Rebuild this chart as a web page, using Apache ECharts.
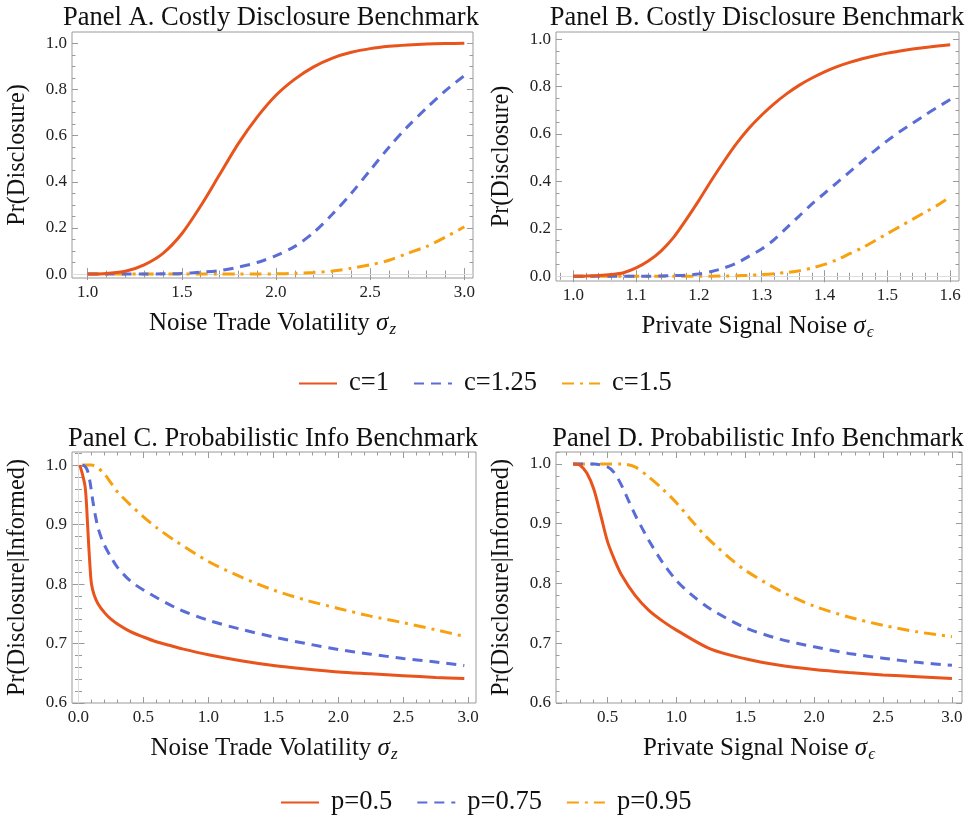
<!DOCTYPE html>
<html>
<head>
<meta charset="utf-8">
<script src="https://cdn.jsdelivr.net/npm/echarts@6/dist/echarts.min.js"></script>
<style>html,body{margin:0;padding:0;background:#fff}#c{width:969px;height:821px}</style>
</head>
<body>
<div id="c"></div>
<script>
// ---------- DATA ----------
// Panel A: Pr(Disclosure) vs noise trade volatility
const xA = [1.0,1.1,1.2,1.3,1.4,1.5,1.6,1.7,1.8,1.9,2.0,2.1,2.2,2.3,2.4,2.5,2.6,2.7,2.8,2.9,3.0];
const aC1   = [0,0.003,0.012,0.04,0.09,0.175,0.295,0.43,0.565,0.68,0.775,0.845,0.898,0.936,0.961,0.977,0.987,0.993,0.997,0.999,1.0];
const aC125 = [0,0,0,0,0.001,0.003,0.008,0.015,0.03,0.05,0.08,0.12,0.18,0.26,0.35,0.45,0.55,0.64,0.72,0.795,0.86];
const aC15  = [0,0,0,0,0,0,0,0,0,0,0.001,0.003,0.007,0.013,0.025,0.04,0.06,0.09,0.12,0.16,0.205];

// Panel B: Pr(Disclosure) vs private signal noise
const xB = [1.00,1.02,1.04,1.06,1.08,1.10,1.12,1.14,1.16,1.18,1.20,1.22,1.24,1.26,1.28,1.30,1.32,1.34,1.36,1.38,1.40,1.42,1.44,1.46,1.48,1.50,1.52,1.54,1.56,1.58,1.60];
const bC1   = [0,0.001,0.003,0.007,0.015,0.035,0.065,0.107,0.165,0.24,0.32,0.405,0.485,0.56,0.625,0.68,0.728,0.77,0.806,0.836,0.862,0.884,0.902,0.917,0.93,0.941,0.95,0.958,0.965,0.971,0.976];
const bC125 = [0,0,0,0,0,0,0,0.001,0.003,0.005,0.01,0.02,0.035,0.055,0.085,0.115,0.155,0.205,0.255,0.305,0.35,0.395,0.44,0.485,0.53,0.572,0.61,0.645,0.68,0.713,0.745];
const bC15  = [0,0,0,0,0,0,0,0,0,0,0,0,0.001,0.002,0.004,0.007,0.011,0.016,0.023,0.035,0.05,0.07,0.095,0.12,0.15,0.18,0.21,0.24,0.27,0.30,0.335];

// Panel C: Pr(Disclosure|Informed) vs noise trade volatility
const xC05  = [0.01,0.03,0.05,0.06,0.07,0.08,0.09,0.10,0.12,0.15,0.2,0.25,0.3,0.4,0.5,0.6,0.7,0.8,1.0,1.25,1.5,1.75,2.0,2.25,2.5,2.75,2.97];
const cP05  = [1.0,0.985,0.965,0.94,0.90,0.86,0.825,0.80,0.782,0.767,0.752,0.741,0.733,0.72,0.711,0.703,0.697,0.691,0.681,0.671,0.663,0.657,0.652,0.649,0.646,0.643,0.641];
const xC075 = [0.03,0.05,0.07,0.09,0.11,0.13,0.15,0.18,0.2,0.25,0.3,0.4,0.5,0.75,1.0,1.25,1.5,1.75,2.0,2.25,2.5,2.75,2.97];
const cP075 = [1.0,0.998,0.99,0.97,0.94,0.915,0.895,0.875,0.865,0.845,0.828,0.805,0.79,0.76,0.739,0.724,0.711,0.70,0.69,0.682,0.675,0.669,0.663];
const xC095 = [0.03,0.1,0.15,0.2,0.25,0.3,0.4,0.5,0.6,0.75,1.0,1.25,1.5,1.75,2.0,2.25,2.5,2.75,2.97];
const cP095 = [1.0,1.0,0.995,0.985,0.97,0.955,0.933,0.913,0.895,0.872,0.838,0.812,0.79,0.773,0.759,0.746,0.735,0.723,0.712];

// Panel D: Pr(Disclosure|Informed) vs private signal noise
const xD05  = [0.25,0.3,0.35,0.4,0.45,0.5,0.55,0.6,0.7,0.8,0.9,1.0,1.25,1.5,1.75,2.0,2.25,2.5,2.75,3.0];
const dP05  = [1.0,0.998,0.985,0.958,0.915,0.87,0.84,0.815,0.78,0.755,0.737,0.722,0.69,0.674,0.663,0.656,0.651,0.647,0.644,0.641];
const xD075 = [0.25,0.4,0.5,0.55,0.6,0.65,0.7,0.75,0.8,0.9,1.0,1.1,1.25,1.5,1.75,2.0,2.25,2.5,2.75,3.0];
const dP075 = [1.0,1.0,0.995,0.985,0.965,0.94,0.915,0.893,0.872,0.835,0.805,0.783,0.757,0.726,0.707,0.694,0.683,0.675,0.668,0.663];
const xD095 = [0.25,0.5,0.6,0.7,0.8,0.9,1.0,1.1,1.2,1.3,1.4,1.5,1.75,2.0,2.25,2.5,2.75,3.0];
const dP095 = [1.0,1.0,1.0,0.995,0.978,0.958,0.935,0.908,0.882,0.86,0.84,0.822,0.788,0.762,0.744,0.73,0.719,0.711];

// Tick labels
const xTicksA = [1.0,1.5,2.0,2.5,3.0];
const xTicksB = [1.0,1.1,1.2,1.3,1.4,1.5,1.6];
const xTicksC = [0.0,0.5,1.0,1.5,2.0,2.5,3.0];
const xTicksD = [0.5,1.0,1.5,2.0,2.5,3.0];
const yTicksAB = [0.0,0.2,0.4,0.6,0.8,1.0];
const yTicksCD = [0.6,0.7,0.8,0.9,1.0];

const legendTop = ['c=1','c=1.25','c=1.5'];
const legendBottom = ['p=0.5','p=0.75','p=0.95'];

// ---------- STYLE / LAYOUT ----------
const FONT = "'Liberation Serif','Times New Roman',serif";
const ORANGE = '#E8541C', BLUE = '#5A6CD6', GOLD = '#F7A10F';
const FRAME = '#9a9a9a';
const styles = [
  {color: ORANGE, type: 'solid'},
  {color: BLUE, type: [10, 7]},
  {color: GOLD, type: [12, 6, 3, 6]}
];

function minorTicks(min, max, step, major) {
  const out = [];
  for (let k = Math.ceil(min / step - 1e-9); k * step <= max + 1e-9; k++) {
    const v = +(k * step).toFixed(4);
    if (!major.some(m => Math.abs(m - v) < 1e-6)) out.push(v);
  }
  return out;
}
function zip(xs, ys) { return xs.map((x, i) => [x, ys[i]]); }

const xNameRich = {
  s: {fontSize: 25, fontStyle: 'italic', fontFamily: FONT, color: '#111'},
  sub: {fontSize: 17, fontStyle: 'italic', fontFamily: FONT, color: '#111', verticalAlign: 'bottom', padding: [12, 0, 0, 1]}
};

const panels = [
  {grid: {left: 72, top: 32, width: 401, height: 246}, xr: [0.917, 3.046], yr: [-0.017, 1.049],
   xMaj: xTicksA, xStep: 0.1, yMaj: yTicksAB, yStep: 0.05,
   xName: 'Noise Trade Volatility {s|σ}{sub|z}', yName: 'Pr(Disclosure)',
   title: 'Panel A. Costly Disclosure Benchmark', tx: 271, ty: 5,
   names: legendTop, xs: [xA, xA, xA], ys: [aC1, aC125, aC15], zero: {yAxis: 0}},
  {grid: {left: 556, top: 32, width: 403, height: 249}, xr: [0.9725, 1.614], yr: [-0.02, 1.03],
   xMaj: xTicksB, xStep: 0.02, yMaj: yTicksAB, yStep: 0.05,
   xName: 'Private Signal Noise {s|σ}{sub|ϵ}', yName: 'Pr(Disclosure)',
   title: 'Panel B. Costly Disclosure Benchmark', tx: 757, ty: 5,
   names: legendTop, xs: [xB, xB, xB], ys: [bC1, bC125, bC15], zero: {yAxis: 0}},
  {grid: {left: 72, top: 452, width: 404, height: 251}, xr: [-0.05, 3.06], yr: [0.6, 1.022],
   xMaj: xTicksC, xStep: 0.1, yMaj: yTicksCD, yStep: 0.02,
   xName: 'Noise Trade Volatility {s|σ}{sub|z}', yName: 'Pr(Disclosure|Informed)',
   title: 'Panel C. Probabilistic Info Benchmark', tx: 273, ty: 426,
   names: legendBottom, xs: [xC05, xC075, xC095], ys: [cP05, cP075, cP095], zero: {xAxis: 0}},
  {grid: {left: 556, top: 452, width: 406, height: 251}, xr: [0.126, 3.073], yr: [0.6, 1.02],
   xMaj: xTicksD, xStep: 0.1, yMaj: yTicksCD, yStep: 0.02,
   xName: 'Private Signal Noise {s|σ}{sub|ϵ}', yName: 'Pr(Disclosure|Informed)',
   title: 'Panel D. Probabilistic Info Benchmark', tx: 758, ty: 426,
   names: legendBottom, xs: [xD05, xD075, xD095], ys: [dP05, dP075, dP095], zero: null}
];

const grids = [], xAxes = [], yAxes = [], series = [], titles = [];
const labelStyle = {fontSize: 17, fontFamily: FONT, color: '#222'};
const fmt = v => Number(v).toFixed(1);

panels.forEach((p, gi) => {
  grids.push(Object.assign({show: true, borderColor: FRAME, borderWidth: 1, backgroundColor: 'transparent', containLabel: false}, p.grid));
  titles.push({text: p.title, left: p.tx, top: p.ty, textAlign: 'center', padding: 0,
    textStyle: {fontSize: 26.5, fontWeight: 'normal', fontFamily: FONT, color: '#111'}});
  const xMin = minorTicks(p.xr[0], p.xr[1], p.xStep, p.xMaj);
  const yMin = minorTicks(p.yr[0], p.yr[1], p.yStep, p.yMaj);
  const base = (pos, vals, len, withLabel, isX) => ({
    type: 'value', gridIndex: gi, position: pos,
    min: isX ? p.xr[0] : p.yr[0], max: isX ? p.xr[1] : p.yr[1],
    axisLine: {show: false}, splitLine: {show: false},
    axisTick: {show: true, inside: true, length: len, customValues: vals, lineStyle: {color: FRAME, width: 1}},
    axisLabel: withLabel ? Object.assign({show: true, customValues: vals, formatter: fmt, margin: isX ? 6 : 5}, labelStyle) : {show: false}
  });
  const xb = base('bottom', p.xMaj, 6, true, true);
  xb.name = p.xName; xb.nameLocation = 'middle'; xb.nameGap = 31;
  xb.nameTextStyle = {fontSize: 25, fontFamily: FONT, color: '#111', rich: xNameRich};
  xAxes.push(xb, base('bottom', xMin, 3.5, false, true), base('top', p.xMaj, 6, false, true), base('top', xMin, 3.5, false, true));
  const yl = base('left', p.yMaj, 6, true, false);
  yl.name = p.yName; yl.nameLocation = 'middle'; yl.nameGap = 42;
  yl.nameTextStyle = {fontSize: 24.3, fontFamily: FONT, color: '#111'};
  yAxes.push(yl, base('left', yMin, 3.5, false, false), base('right', p.yMaj, 6, false, false), base('right', yMin, 3.5, false, false));
  p.names.forEach((nm, si) => {
    const s = {
      name: nm, type: 'line', xAxisIndex: gi * 4, yAxisIndex: gi * 4,
      data: zip(p.xs[si], p.ys[si]), symbol: 'none', showSymbol: false,
      smooth: 0.3, clip: true,
      lineStyle: {width: 3, color: styles[si].color, type: styles[si].type},
      itemStyle: {color: styles[si].color}, z: 3 + (2 - si)
    };
    if (si === 0 && p.zero) {
      s.markLine = {silent: true, symbol: 'none', label: {show: false}, animation: false,
        lineStyle: {color: '#dcdcdc', width: 1, type: 'solid'}, data: [p.zero], z: 1};
    }
    series.push(s);
  });
});

const legendCommon = {
  orient: 'horizontal', padding: 0, itemWidth: 38, itemHeight: 14, itemGap: 24,
  itemStyle: {opacity: 0, borderWidth: 0},
  textStyle: {fontSize: 26.5, fontFamily: FONT, color: '#111', padding: [0, 0, 0, 7]}
};

const chart = echarts.init(document.getElementById('c'), null, {renderer: 'canvas'});
chart.setOption({
  animation: false,
  backgroundColor: '#fff',
  title: titles,
  grid: grids,
  xAxis: xAxes,
  yAxis: yAxes,
  legend: [
    Object.assign({data: legendTop, left: 298, top: 370}, legendCommon),
    Object.assign({data: legendBottom, left: 280, top: 789}, legendCommon)
  ],
  series: series
});
</script>
</body>
</html>
